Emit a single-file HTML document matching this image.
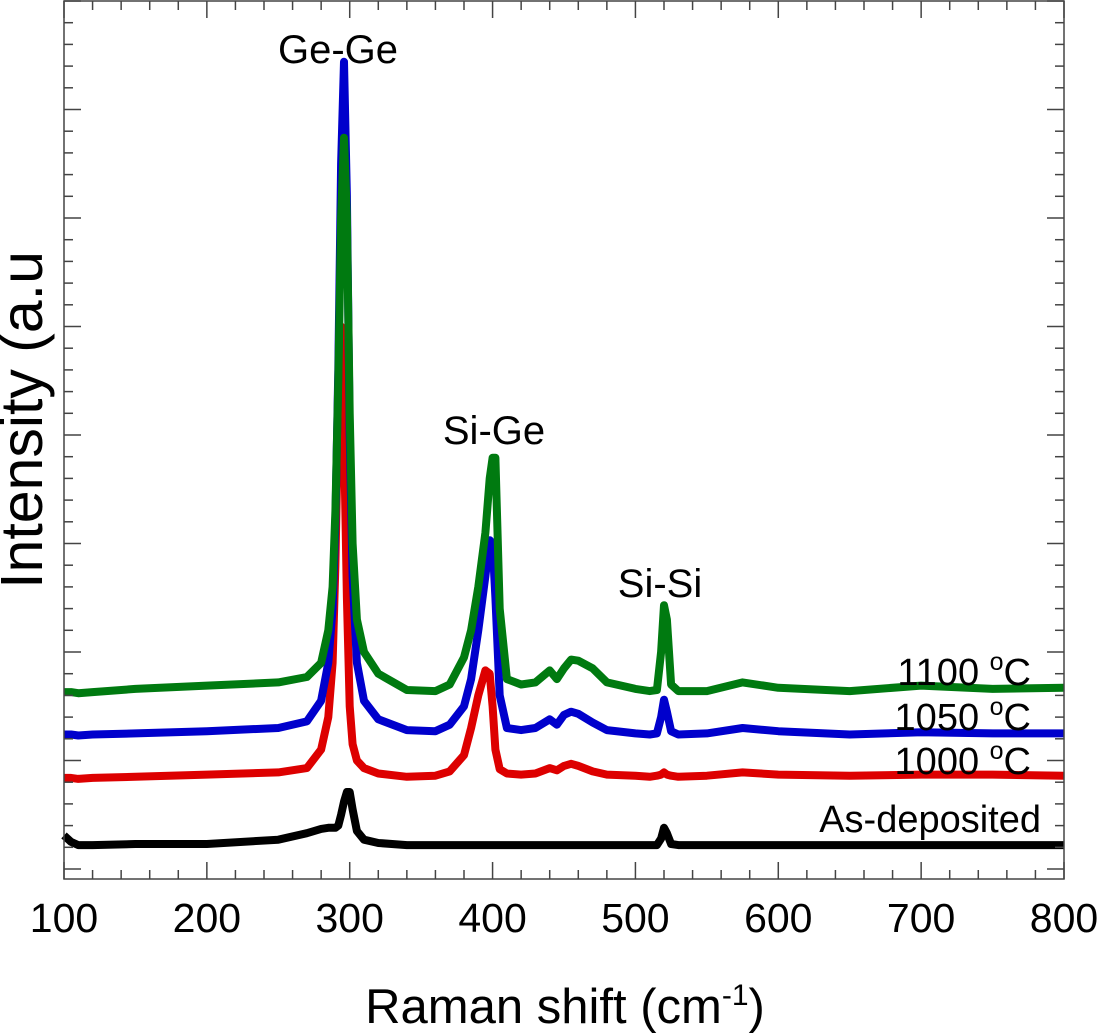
<!DOCTYPE html>
<html><head><meta charset="utf-8"><style>
html,body{margin:0;padding:0;background:#fff;}
svg{display:block;font-family:"Liberation Sans",Arial,sans-serif;}
</style></head><body>
<svg id="chart" width="1103" height="1034" viewBox="0 0 1103 1034">
<g id="series"></g>
<g id="axes"></g>
<text x="565" y="1023" font-size="49" text-anchor="middle">Raman shift (cm<tspan dy="-18" font-size="30">-1</tspan><tspan dy="18">)</tspan></text>
<text transform="translate(42,420) rotate(-90)" font-size="59" text-anchor="middle">Intensity (a.u</text>
<text x="338" y="63" font-size="40" text-anchor="middle">Ge-Ge</text>
<text x="494" y="444" font-size="40" text-anchor="middle">Si-Ge</text>
<text x="660" y="597" font-size="40" text-anchor="middle">Si-Si</text>
<text x="1031" y="685" font-size="38" text-anchor="end">1100 <tspan dy="-15" font-size="25">o</tspan><tspan dy="15">C</tspan></text>
<text x="1031" y="730" font-size="38" text-anchor="end">1050 <tspan dy="-15" font-size="25">o</tspan><tspan dy="15">C</tspan></text>
<text x="1031" y="774" font-size="38" text-anchor="end">1000 <tspan dy="-15" font-size="25">o</tspan><tspan dy="15">C</tspan></text>
<text x="1041" y="832" font-size="38" text-anchor="end">As-deposited</text>
</svg>
<script>
const shifts=[100,105,110,120,150,200,250,270,280,285,288,290,292,294,296,298,300,302,305,310,320,340,360,370,380,385,390,395,398,400,402,405,410,420,430,440,445,450,455,460,470,480,500,510,515,518,520,522,525,530,550,575,600,650,700,750,800];
const green=[1.63,1.63,1.62,1.63,1.66,1.69,1.72,1.77,1.9,2.2,2.6,3.3,4.5,6.0,6.74,6.0,4.2,3.0,2.3,2.0,1.8,1.65,1.64,1.7,1.95,2.2,2.6,3.1,3.6,3.79,3.79,2.4,1.75,1.7,1.72,1.83,1.75,1.85,1.93,1.92,1.85,1.72,1.66,1.64,1.65,2.0,2.43,2.3,1.7,1.64,1.64,1.72,1.67,1.64,1.69,1.66,1.67];
const blue=[1.24,1.24,1.23,1.24,1.25,1.27,1.3,1.36,1.55,1.9,2.4,3.2,4.6,6.5,7.44,6.2,4.0,2.7,1.9,1.55,1.38,1.28,1.27,1.33,1.5,1.75,2.2,2.7,3.03,3.0,2.5,1.6,1.3,1.28,1.3,1.38,1.33,1.42,1.45,1.43,1.35,1.28,1.25,1.24,1.25,1.4,1.56,1.45,1.27,1.24,1.25,1.3,1.27,1.24,1.26,1.25,1.25];
const red=[0.84,0.84,0.83,0.84,0.85,0.87,0.89,0.93,1.1,1.4,1.9,2.8,4.2,5.0,4.0,2.5,1.5,1.15,1.0,0.93,0.88,0.85,0.86,0.9,1.05,1.3,1.6,1.83,1.8,1.5,1.1,0.92,0.88,0.87,0.88,0.93,0.91,0.95,0.97,0.95,0.9,0.87,0.86,0.85,0.86,0.87,0.89,0.87,0.86,0.85,0.86,0.89,0.87,0.86,0.87,0.87,0.86];
const black=[0.31,0.25,0.22,0.22,0.23,0.23,0.27,0.33,0.37,0.38,0.38,0.38,0.4,0.5,0.62,0.71,0.71,0.55,0.35,0.27,0.24,0.22,0.22,0.22,0.22,0.22,0.22,0.22,0.22,0.22,0.22,0.22,0.22,0.22,0.22,0.22,0.22,0.22,0.22,0.22,0.22,0.22,0.22,0.22,0.22,0.28,0.38,0.33,0.23,0.22,0.22,0.22,0.22,0.22,0.22,0.22,0.22];
const xTickLabels=["100","200","300","400","500","600","700","800"];
const NS="http://www.w3.org/2000/svg";
const L=64,R=1064,T=1,B=879;
function xs(v){return L+(v-100)*(R-L)/700;}
function ys(v){return 869-v*108.5;}
const sg=document.getElementById('series');
const ser=[[black,'#000000','series-as-deposited'],[red,'#dd0000','series-1000C'],[blue,'#0000cc','series-1050C'],[green,'#007a10','series-1100C']];
for(const [d,c,n] of ser){
 const p=document.createElementNS(NS,'path');
 
 
 p.setAttribute('d',shifts.map((s,i)=>(i?'L':'M')+xs(s).toFixed(1)+' '+ys(d[i]).toFixed(1)).join(''));
 p.setAttribute('fill','none');p.setAttribute('stroke',c);p.setAttribute('stroke-width','8');p.setAttribute('stroke-linejoin','round');
 sg.appendChild(p);
}
const ax=document.getElementById('axes');
function line(x1,y1,x2,y2,w,name){const l=document.createElementNS(NS,'line');
 
 
 l.setAttribute('x1',x1);l.setAttribute('y1',y1);l.setAttribute('x2',x2);l.setAttribute('y2',y2);l.setAttribute('stroke','#444');l.setAttribute('stroke-width',w);ax.appendChild(l);}
const fr=document.createElementNS(NS,'rect');


fr.setAttribute('x',L);fr.setAttribute('y',T);fr.setAttribute('width',R-L);fr.setAttribute('height',B-T);fr.setAttribute('fill','none');fr.setAttribute('stroke','#444');fr.setAttribute('stroke-width','1.5');ax.appendChild(fr);
for(let v=100;v<=800;v+=20){const x=xs(v);const maj=(v%100===0);const len=maj?17:9;
 line(x,B,x,B-len,1.5,'x-tick');line(x,T,x,T+len,1.5,'x-tick-top');}
for(let k=0;k<=40;k++){const y=869-k*21.7;if(y<T)break;const len=(k%5===0)?17:9;
 line(L,y,L+len,y,1.5,'y-tick');line(R,y,R-len,y,1.5,'y-tick-right');}
xTickLabels.forEach(t=>{const tx=document.createElementNS(NS,'text');
 
 
 tx.setAttribute('x',xs(+t));tx.setAttribute('y',932);tx.setAttribute('font-size','41');tx.setAttribute('text-anchor','middle');tx.textContent=t;ax.appendChild(tx);});
</script>
</body></html>
